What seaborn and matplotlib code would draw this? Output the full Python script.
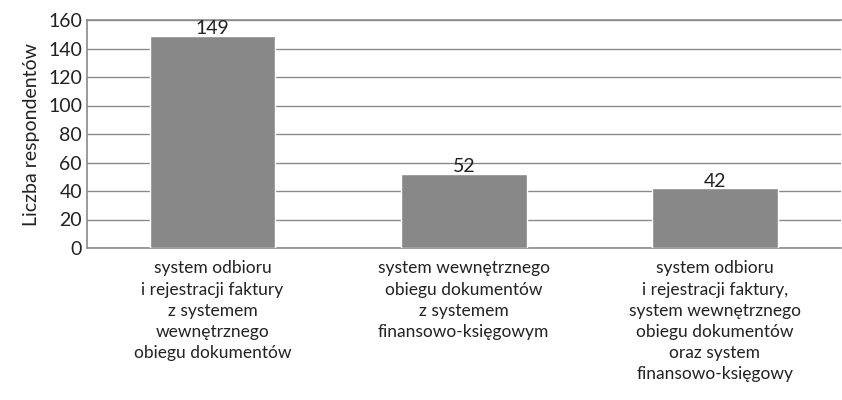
import pandas as pd
import matplotlib.pyplot as plt
import seaborn as sns

# Dane z wykresu
kategorie = [
    'system odbioru\ni rejestracji faktury\nz systemem\nwewnętrznego\nobiegu dokumentów',
    'system wewnętrznego\nobiegu dokumentów\nz systemem\nfinansowo-księgowym',
    'system odbioru\ni rejestracji faktury,\nsystem wewnętrznego\nobiegu dokumentów\noraz system\nfinansowo-księgowy',
]
liczba = [149, 52, 42]
y_ticks = [0, 20, 40, 60, 80, 100, 120, 140, 160]

df = pd.DataFrame({'kategoria': kategorie, 'liczba': liczba})

sns.set_style('white')
plt.rcParams['font.family'] = ['Lato', 'DejaVu Sans']

fig = plt.figure(figsize=(8.42, 4), dpi=100)
ax = fig.add_axes([0.1033, 0.38, 0.895, 0.57])

sns.barplot(data=df, x='kategoria', y='liczba', color='#888888', width=0.5,
            saturation=1, ax=ax, zorder=3)

for i, v in enumerate(liczba):
    ax.text(i, v - 1, str(v), ha='center', va='bottom', fontsize=14, color='#222222')

ax.set_ylim(0, 160)
ax.set_yticks(y_ticks)
ax.yaxis.grid(True, color='#8a8a8a', linewidth=1, zorder=0)
for s in ax.spines.values():
    s.set_color('#8a8a8a')
    s.set_linewidth(1.2)
ax.spines['right'].set_visible(False)
ax.tick_params(axis='y', length=0, labelsize=14, colors='#222222')
ax.tick_params(axis='x', length=0, labelsize=12.5, colors='#222222', pad=9)
for lab in ax.get_xticklabels():
    lab.set_linespacing(1.4)
ax.set_xlabel('')
ax.set_ylabel('Liczba respondentów', fontsize=14, color='#222222', labelpad=6)

plt.savefig('out.png', dpi=100)
